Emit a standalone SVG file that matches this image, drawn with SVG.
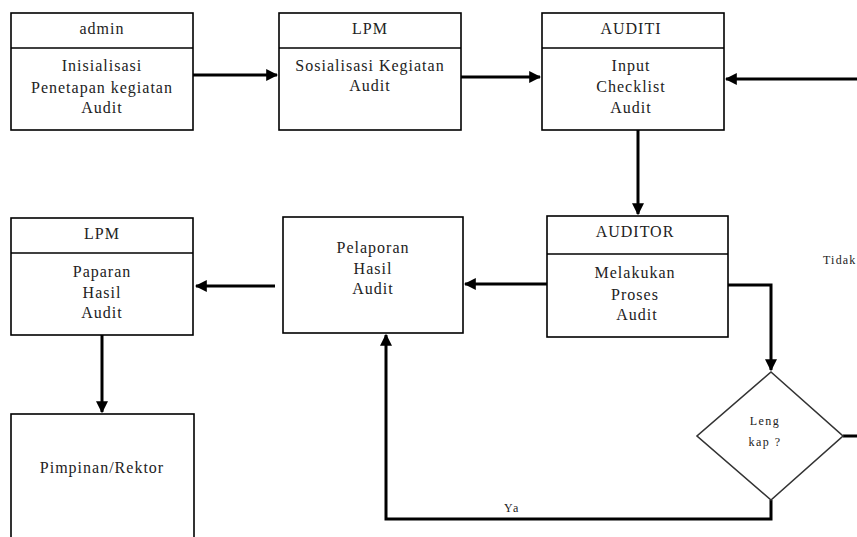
<svg xmlns="http://www.w3.org/2000/svg" width="857" height="537" viewBox="0 0 857 537">
<style>
.box{fill:#fff;stroke:#000;stroke-width:1.6}
.div{stroke:#000;stroke-width:1.6}
.con{fill:none;stroke:#000;stroke-width:3}
.t{font-family:"Liberation Serif","Times New Roman",serif;font-size:16px;letter-spacing:1px;fill:#222;text-anchor:middle}
.s{font-family:"Liberation Serif","Times New Roman",serif;font-size:12px;letter-spacing:1.5px;fill:#222;text-anchor:middle}
.dia{fill:#fff;stroke:#333;stroke-width:1.6}
</style>
<defs>
<marker id="ah" markerWidth="4" markerHeight="4" refX="3.6" refY="2" orient="auto" markerUnits="strokeWidth">
<path d="M0,0 L4,2 L0,4 Z" fill="#000"/>
</marker>
</defs>
<rect width="857" height="537" fill="#fff"/>
<g id="connectors">
<path class="con" d="M193,75 L277,75" marker-end="url(#ah)"/>
<path class="con" d="M459,77 L540,77" marker-end="url(#ah)"/>
<path class="con" d="M857,79 L726,79" marker-end="url(#ah)"/>
<path class="con" d="M638,130 L638,214" marker-end="url(#ah)"/>
<path class="con" d="M547,284 L465,284" marker-end="url(#ah)"/>
<path class="con" d="M275,286 L196,286" marker-end="url(#ah)"/>
<path class="con" d="M102,335 L102,412" marker-end="url(#ah)"/>
<path class="con" d="M728,285 L771,285 L771,370" marker-end="url(#ah)"/>
<path class="con" d="M843,436 L857,436"/>
<path class="con" d="M771,500 L771,519 L386,519 L386,335" marker-end="url(#ah)"/>
<text class="s" x="512" y="512">Ya</text>
<text class="s" x="823" y="264" style="text-anchor:start;letter-spacing:1.2px">Tidak</text>
</g>
<g id="admin">
<rect class="box" x="11" y="13" width="182" height="117"/>
<line class="div" x1="11" y1="48" x2="193" y2="48"/>
<text class="t" x="102" y="34">admin</text>
<text class="t" x="102" y="71">Inisialisasi</text>
<text class="t" x="102" y="93">Penetapan kegiatan</text>
<text class="t" x="102" y="113">Audit</text>
</g>
<g id="lpm1">
<rect class="box" x="279" y="13" width="182" height="117"/>
<line class="div" x1="279" y1="48" x2="461" y2="48"/>
<text class="t" x="370" y="34">LPM</text>
<text class="t" x="370" y="71">Sosialisasi Kegiatan</text>
<text class="t" x="370" y="91">Audit</text>
</g>
<g id="auditi">
<rect class="box" x="542" y="13" width="182" height="117"/>
<line class="div" x1="542" y1="48" x2="724" y2="48"/>
<text class="t" x="631" y="34">AUDITI</text>
<text class="t" x="631" y="71">Input</text>
<text class="t" x="631" y="92">Checklist</text>
<text class="t" x="631" y="113">Audit</text>
</g>
<g id="auditor">
<rect class="box" x="547" y="216" width="181" height="121"/>
<line class="div" x1="547" y1="254" x2="728" y2="254"/>
<text class="t" x="635" y="237">AUDITOR</text>
<text class="t" x="635" y="278">Melakukan</text>
<text class="t" x="635" y="300">Proses</text>
<text class="t" x="637" y="320">Audit</text>
</g>
<g id="pelaporan">
<rect class="box" x="283" y="217" width="180" height="116"/>
<text class="t" x="373" y="253">Pelaporan</text>
<text class="t" x="373" y="274">Hasil</text>
<text class="t" x="373" y="294">Audit</text>
</g>
<g id="lpm2">
<rect class="box" x="11" y="218" width="182" height="117"/>
<line class="div" x1="11" y1="253" x2="193" y2="253"/>
<text class="t" x="102" y="239">LPM</text>
<text class="t" x="102" y="277">Paparan</text>
<text class="t" x="102" y="298">Hasil</text>
<text class="t" x="102" y="318">Audit</text>
</g>
<g id="pimpinan">
<rect class="box" x="11" y="414" width="183" height="130"/>
<text class="t" x="102" y="473">Pimpinan/Rektor</text>
</g>
<g id="lengkap">
<polygon class="dia" points="771,372 843,436 771,500 697,436"/>
<text class="s" x="765" y="425">Leng</text>
<text class="s" x="765" y="446">kap ?</text>
</g>
</svg>
